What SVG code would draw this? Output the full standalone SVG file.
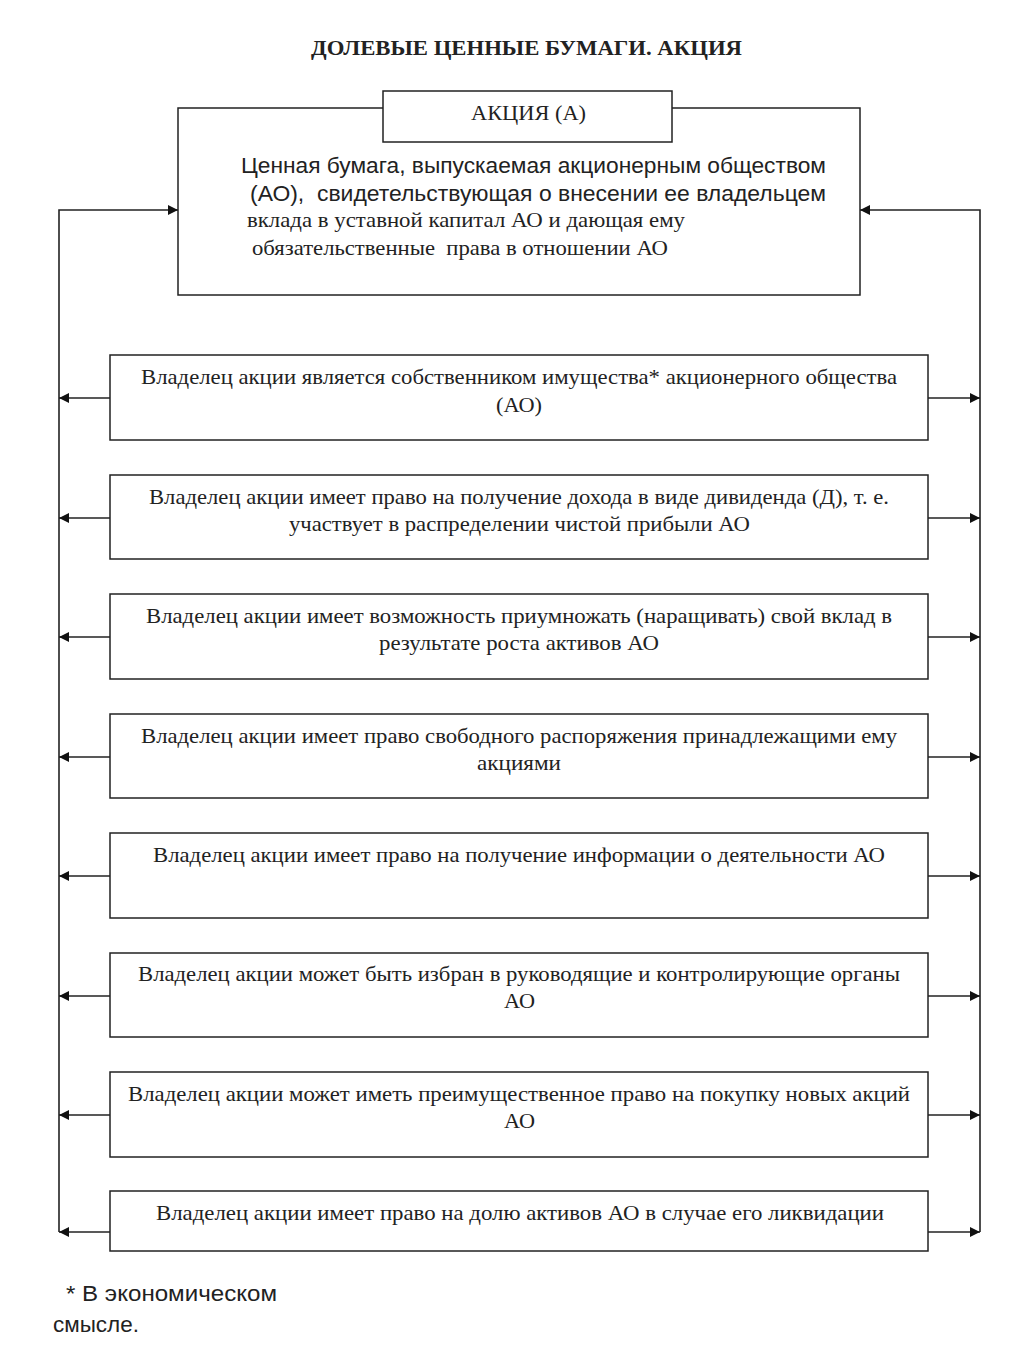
<svg xmlns="http://www.w3.org/2000/svg" width="1024" height="1365" viewBox="0 0 1024 1365">
<style>
.box{fill:#fff;stroke:#222;stroke-width:1.5}
.t{font-family:"Liberation Serif","Times New Roman",serif;font-size:21px;fill:#222;text-anchor:middle}
.s{font-family:"Liberation Sans",Arial,sans-serif;font-size:22px;fill:#222}
.ln{stroke:#222;stroke-width:1.6;fill:none}
</style>
<defs>
<marker id="ah" viewBox="0 0 10 10" refX="10" refY="5" markerWidth="14" markerHeight="10" markerUnits="userSpaceOnUse" orient="auto">
<path d="M0,0 L10,5 L0,10 z" fill="#111"/>
</marker>
</defs>
<rect width="1024" height="1365" fill="#fff"/>
<text x="526.5" y="55" class="t" style="font-weight:bold;font-size:20px" textLength="431" lengthAdjust="spacingAndGlyphs">ДОЛЕВЫЕ ЦЕННЫЕ БУМАГИ. АКЦИЯ</text>
<g id="connectors">
<path class="ln" d="M59,1232 V210 H178" marker-end="url(#ah)"/>
<path class="ln" d="M980,1232 V210 H860" marker-end="url(#ah)"/>
<path class="ln" d="M110,398 H59" marker-end="url(#ah)"/>
<path class="ln" d="M110,518 H59" marker-end="url(#ah)"/>
<path class="ln" d="M110,637 H59" marker-end="url(#ah)"/>
<path class="ln" d="M110,757 H59" marker-end="url(#ah)"/>
<path class="ln" d="M110,876 H59" marker-end="url(#ah)"/>
<path class="ln" d="M110,996 H59" marker-end="url(#ah)"/>
<path class="ln" d="M110,1115 H59" marker-end="url(#ah)"/>
<path class="ln" d="M110,1232 H59" marker-end="url(#ah)"/>
<path class="ln" d="M928,398 H980" marker-end="url(#ah)"/>
<path class="ln" d="M928,518 H980" marker-end="url(#ah)"/>
<path class="ln" d="M928,637 H980" marker-end="url(#ah)"/>
<path class="ln" d="M928,757 H980" marker-end="url(#ah)"/>
<path class="ln" d="M928,876 H980" marker-end="url(#ah)"/>
<path class="ln" d="M928,996 H980" marker-end="url(#ah)"/>
<path class="ln" d="M928,1115 H980" marker-end="url(#ah)"/>
<path class="ln" d="M928,1232 H980" marker-end="url(#ah)"/>
</g>
<g id="main">
<rect class="box" x="178" y="108" width="682" height="187"/>
<text x="241" y="173" class="s" textLength="585" lengthAdjust="spacingAndGlyphs">Ценная бумага, выпускаемая акционерным обществом</text>
<text x="250" y="201" class="s" xml:space="preserve" textLength="576" lengthAdjust="spacingAndGlyphs">(АО),  свидетельствующая о внесении ее владельцем</text>
<text x="247" y="227" class="t" style="text-anchor:start" textLength="438" lengthAdjust="spacingAndGlyphs">вклада в уставной капитал АО и дающая ему</text>
<text x="252" y="255" class="t" style="text-anchor:start" xml:space="preserve" textLength="416" lengthAdjust="spacingAndGlyphs">обязательственные  права в отношении АО</text>
</g>
<g id="title">
<rect class="box" x="383" y="91" width="289" height="51"/>
<text x="528.5" y="120" class="t" textLength="115" lengthAdjust="spacingAndGlyphs">АКЦИЯ (А)</text>
</g>
<g id="n1">
<rect class="box" x="110" y="355" width="818" height="85"/>
<text x="519" y="384" class="t" textLength="756" lengthAdjust="spacingAndGlyphs">Владелец акции является собственником имущества* акционерного общества</text>
<text x="519" y="412" class="t" textLength="46" lengthAdjust="spacingAndGlyphs">(АО)</text>
</g>
<g id="n2">
<rect class="box" x="110" y="475" width="818" height="84"/>
<text x="519" y="504" class="t" textLength="740" lengthAdjust="spacingAndGlyphs">Владелец акции имеет право на получение дохода в виде дивиденда (Д), т. е.</text>
<text x="519.5" y="531" class="t" textLength="461" lengthAdjust="spacingAndGlyphs">участвует в распределении чистой прибыли АО</text>
</g>
<g id="n3">
<rect class="box" x="110" y="594" width="818" height="85"/>
<text x="519" y="623" class="t" textLength="746" lengthAdjust="spacingAndGlyphs">Владелец акции имеет возможность приумножать (наращивать) свой вклад в</text>
<text x="519" y="650" class="t" textLength="280" lengthAdjust="spacingAndGlyphs">результате роста активов АО</text>
</g>
<g id="n4">
<rect class="box" x="110" y="714" width="818" height="84"/>
<text x="519" y="743" class="t" textLength="756" lengthAdjust="spacingAndGlyphs">Владелец акции имеет право свободного распоряжения принадлежащими ему</text>
<text x="519" y="770" class="t" textLength="84" lengthAdjust="spacingAndGlyphs">акциями</text>
</g>
<g id="n5">
<rect class="box" x="110" y="833" width="818" height="85"/>
<text x="519" y="862" class="t" textLength="732" lengthAdjust="spacingAndGlyphs">Владелец акции имеет право на получение информации о деятельности АО</text>
</g>
<g id="n6">
<rect class="box" x="110" y="953" width="818" height="84"/>
<text x="519" y="981" class="t" textLength="762" lengthAdjust="spacingAndGlyphs">Владелец акции может быть избран в руководящие и контролирующие органы</text>
<text x="519.5" y="1008" class="t" textLength="31" lengthAdjust="spacingAndGlyphs">АО</text>
</g>
<g id="n7">
<rect class="box" x="110" y="1072" width="818" height="85"/>
<text x="519" y="1101" class="t" textLength="782" lengthAdjust="spacingAndGlyphs">Владелец акции может иметь преимущественное право на покупку новых акций</text>
<text x="519.5" y="1128" class="t" textLength="31" lengthAdjust="spacingAndGlyphs">АО</text>
</g>
<g id="n8">
<rect class="box" x="110" y="1191" width="818" height="60"/>
<text x="520" y="1220" class="t" textLength="728" lengthAdjust="spacingAndGlyphs">Владелец акции имеет право на долю активов АО в случае его ликвидации</text>
</g>
<text x="66" y="1301" class="s" textLength="211" lengthAdjust="spacingAndGlyphs">* В экономическом</text>
<text x="53" y="1332" class="s" textLength="86" lengthAdjust="spacingAndGlyphs">смысле.</text>
</svg>
